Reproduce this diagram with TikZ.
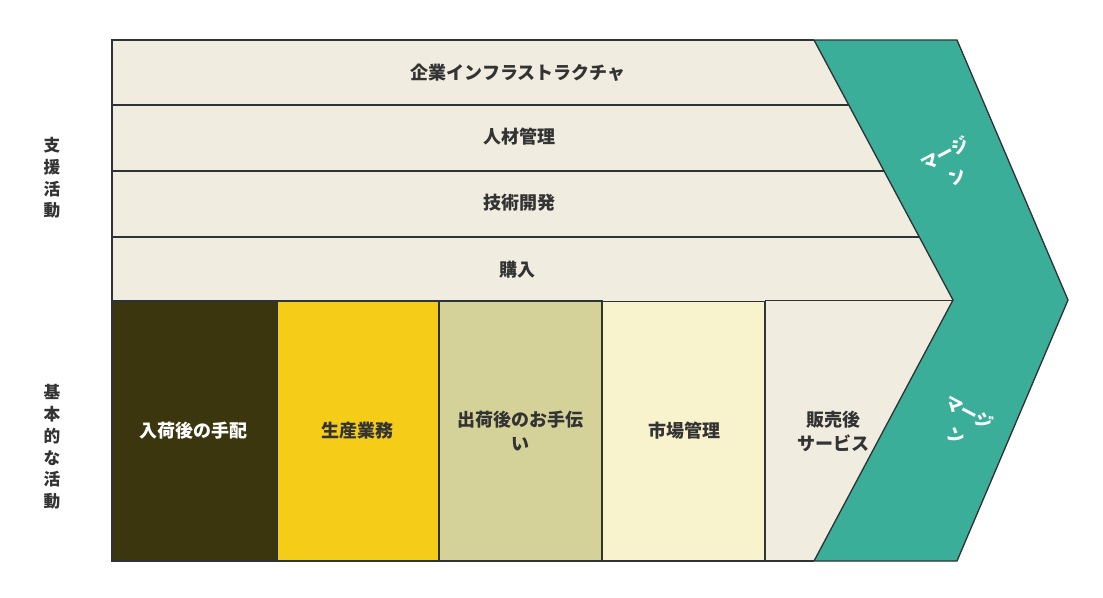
\documentclass[tikz,border=0pt]{standalone}
\usepackage{fontspec}
\setmainfont{Noto Sans CJK JP}
\definecolor{linec}{HTML}{2E3436}
\definecolor{beige}{HTML}{F0EDE0}
\definecolor{darkol}{HTML}{3B360E}
\definecolor{yell}{HTML}{F5CD19}
\definecolor{khaki}{HTML}{D5D299}
\definecolor{cream}{HTML}{F8F3CC}
\definecolor{teal}{HTML}{3BAE99}
\definecolor{txt}{HTML}{333333}
\begin{document}
\begin{tikzpicture}[x=0.75pt,y=-0.75pt,
  lbl/.style={font=\bfseries\fontsize{13.5pt}{18pt}\selectfont, text=txt, align=center, inner sep=0pt},
  side/.style={font=\bfseries\fontsize{12.5pt}{16.3pt}\selectfont, text=txt, align=center, inner sep=0pt},
  mrg/.style={font=\bfseries\fontsize{13pt}{20pt}\selectfont, text=white, align=center, inner sep=0pt},
  edge/.style={draw=linec, line width=1pt}]
\useasboundingbox (0,0) rectangle (1103,597);
% support background
\fill[beige] (112,40) -- (814,40) -- (953,300) -- (814,561) -- (112,561) -- cycle;
\draw[edge] (112,561) -- (112,40) -- (814,40);
\draw[edge] (113,105) -- (848.7,105);
\draw[edge] (113,171) -- (884,171);
\draw[edge] (113,237) -- (919.3,237);
\draw[edge] (765,300.5) -- (953,300.5);
% primary boxes
\draw[edge, fill=darkol] (112,301) rectangle (277,561);
\draw[edge, fill=yell] (277,301) rectangle (439,561);
\draw[edge, fill=khaki] (439,301) rectangle (602,561);
\draw[edge, fill=cream] (602,301.5) rectangle (765,561);
\draw[edge] (765,300.5) -- (765,561) -- (814,561);
% margin chevron
\draw[edge, fill=teal] (814,40) -- (957,40) -- (1068,300) -- (957,561) -- (814,561) -- (953,300) -- cycle;
% support labels
\node[lbl] (infra) at (518,73) {企業インフラストラクチャ};
\node[lbl] (hr) at (519,137) {人材管理};
\node[lbl] (tech) at (519,203) {技術開発};
\node[lbl] (buy) at (517,270) {購入};
% primary labels
\node[lbl, text=white] (inb) at (193,431) {入荷後の手配};
\node[lbl] (ops) at (357,431) {生産業務};
\node[lbl] (outb) at (520,431) {出荷後のお手伝\\い};
\node[lbl] (mkt) at (684,431) {市場管理};
\node[lbl] (svc) at (833,431) {販売後\\サービス};
% side labels
\node[side] (sup) at (52,178) {支\\援\\活\\動};
\node[side] (pri) at (52,447) {基\\本\\的\\な\\活\\動};
% margin labels
\node[mrg, rotate=28] (m1) at (951,165) {マージ\\ン};
\node[mrg, rotate=-28] (m2) at (963,424) {マージ\\ン};
\end{tikzpicture}
\end{document}
